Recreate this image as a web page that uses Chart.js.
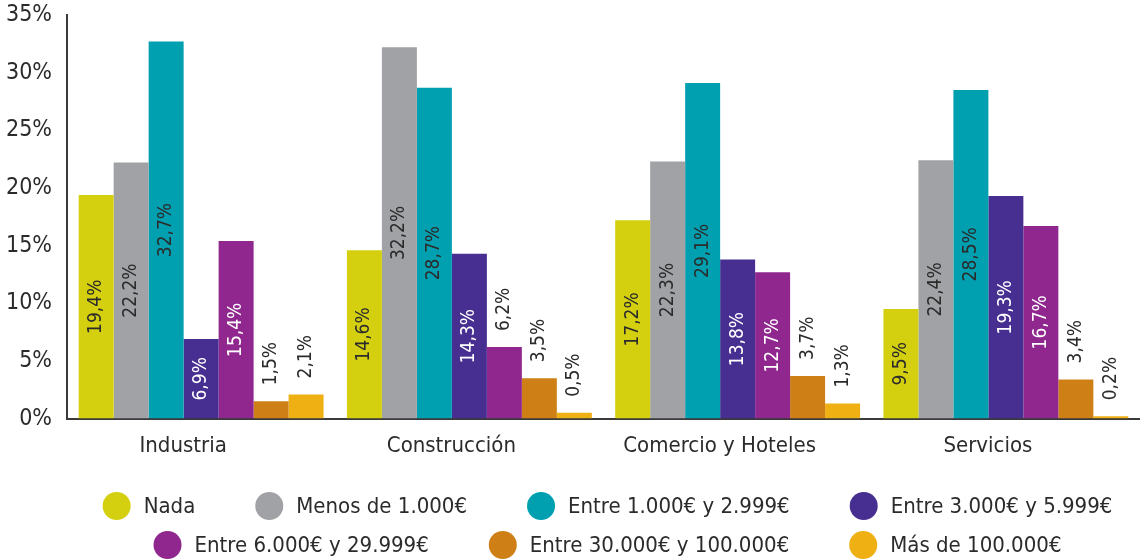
<!DOCTYPE html>
<html>
<head>
<meta charset="UTF-8">
<title>Gasto por sector</title>
<script src="https://cdn.jsdelivr.net/npm/chart.js"></script>
<style>
  html, body { margin: 0; padding: 0; background: #fff; }
  #wrap { width: 1140px; height: 560px; }
</style>
</head>
<body>
<div id="wrap"><canvas id="barChart"></canvas></div>
<script>
  const sectores = ['Industria', 'Construcción', 'Comercio y Hoteles', 'Servicios'];
  const tramos = ['Nada', 'Menos de 1.000€', 'Entre 1.000€ y 2.999€', 'Entre 3.000€ y 5.999€',
                  'Entre 6.000€ y 29.999€', 'Entre 30.000€ y 100.000€', 'Más de 100.000€'];
  const nada = [19.4, 14.6, 17.2, 9.5];
  const menos1000 = [22.2, 32.2, 22.3, 22.4];
  const de1000a2999 = [32.7, 28.7, 29.1, 28.5];
  const de3000a5999 = [6.9, 14.3, 13.8, 19.3];
  const de6000a29999 = [15.4, 6.2, 12.7, 16.7];
  const de30000a100000 = [1.5, 3.5, 3.7, 3.4];
  const mas100000 = [2.1, 0.5, 1.3, 0.2];
  const yTicks = [0, 5, 10, 15, 20, 25, 30, 35];

  const colores = ['#d4d010', '#a1a2a6', '#00a0b1', '#472e91', '#8f278f', '#ce8017', '#efb013'];
  const series = [nada, menos1000, de1000a2999, de3000a5999, de6000a29999, de30000a100000, mas100000];
  const FAMILIA = '"DejaVu Sans Condensed", "Liberation Sans", sans-serif';
  const TEXTO = '#2b2b2b';

  // etiquetas giradas: dentro de la barra si cabe, encima si no
  const etiquetas = {
    id: 'etiquetas',
    afterDatasetsDraw(chart) {
      const ctx = chart.ctx;
      ctx.save();
      ctx.font = '19px ' + FAMILIA;
      ctx.textBaseline = 'middle';
      chart.data.datasets.forEach((ds, i) => {
        chart.getDatasetMeta(i).data.forEach((bar, j) => {
          const v = ds.data[j];
          const txt = v.toFixed(1).replace('.', ',') + '%';
          ctx.save();
          if (v >= 6.5) {
            ctx.translate(bar.x, (bar.y + bar.base) / 2);
            ctx.textAlign = 'center';
            ctx.fillStyle = (i === 3 || i === 4) ? '#fff' : TEXTO;
          } else {
            ctx.translate(bar.x, bar.y - 16);
            ctx.textAlign = 'left';
            ctx.fillStyle = TEXTO;
          }
          ctx.rotate(-Math.PI / 2);
          ctx.fillText(txt, 0, 0);
          ctx.restore();
        });
      });
      ctx.restore();
    }
  };

  // leyenda en dos filas con circulos grandes
  const leyenda = {
    id: 'leyenda',
    afterDraw(chart) {
      const ctx = chart.ctx;
      const filas = [[0, 1, 2, 3], [4, 5, 6]];
      const filaY = [506, 545];
      const centro = (chart.chartArea.left + chart.chartArea.right) / 2 + 4;
      ctx.save();
      ctx.font = '22px ' + FAMILIA;
      ctx.textBaseline = 'middle';
      filas.forEach((fila, f) => {
        const anchos = fila.map(i => 41 + ctx.measureText(chart.data.datasets[i].label).width);
        const total = anchos.reduce((a, b) => a + b, 0) + 60 * (fila.length - 1);
        let x = centro - total / 2;
        fila.forEach((i, k) => {
          const ds = chart.data.datasets[i];
          ctx.fillStyle = ds.backgroundColor;
          ctx.beginPath();
          ctx.arc(x + 14, filaY[f], 14, 0, Math.PI * 2);
          ctx.fill();
          ctx.fillStyle = TEXTO;
          ctx.fillText(ds.label, x + 41, filaY[f] + 1);
          x += anchos[k] + 60;
        });
      });
      ctx.restore();
    }
  };

  new Chart(document.getElementById('barChart'), {
    type: 'bar',
    data: {
      labels: sectores,
      datasets: series.map((d, i) => ({
        label: tramos[i],
        data: d,
        backgroundColor: colores[i],
        borderWidth: 0,
        categoryPercentage: 0.913,
        barPercentage: 1
      }))
    },
    options: {
      responsive: true,
      maintainAspectRatio: false,
      animation: false,
      layout: { padding: { top: 15, right: 0, bottom: 87, left: 0 } },
      plugins: {
        legend: { display: false },
        tooltip: { enabled: false }
      },
      scales: {
        x: {
          grid: { display: false, drawTicks: false },
          border: { display: true, color: '#3a3a3a', width: 2 },
          ticks: {
            color: TEXTO,
            font: { family: FAMILIA, size: 22 },
            padding: 14,
            labelOffset: -18,
            maxRotation: 0
          }
        },
        y: {
          min: 0,
          max: 35,
          afterFit: s => { s.width = 67; s.paddingTop = 0; s.paddingBottom = 0; },
          afterBuildTicks: s => { s.ticks = yTicks.map(v => ({ value: v })); },
          grid: { display: false, drawTicks: false },
          border: { display: true, color: '#3a3a3a', width: 2 },
          ticks: {
            color: TEXTO,
            font: { family: FAMILIA, size: 23 },
            padding: 15,
            callback: v => v + '%'
          }
        }
      }
    },
    plugins: [etiquetas, leyenda]
  });
</script>
</body>
</html>
